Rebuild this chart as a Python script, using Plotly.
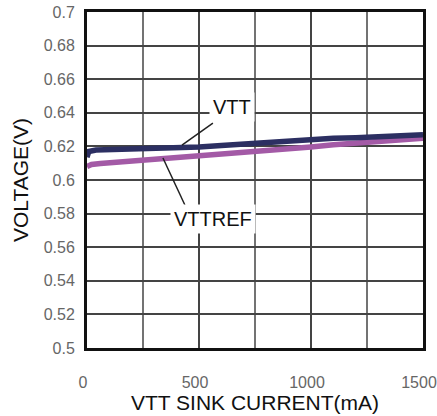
import plotly.graph_objects as go

# Data
vtt_x = [0, 8, 40, 100, 200, 300, 400, 500, 600, 700, 800, 900, 1000, 1100, 1200, 1300, 1400, 1500]
vtt_y = [0.6135, 0.6170, 0.6178, 0.6180, 0.6182, 0.6185, 0.6190, 0.6197, 0.6205, 0.6215,
         0.6225, 0.6230, 0.6245, 0.6248, 0.6252, 0.6260, 0.6262, 0.6270]
vttref_x = [0, 20, 60, 100, 200, 300, 400, 500, 600, 700, 800, 900, 1000, 1100, 1200, 1300, 1400, 1500]
vttref_y = [0.6080, 0.6092, 0.6098, 0.6102, 0.6110, 0.6122, 0.6132, 0.6142, 0.6152, 0.6165,
            0.6175, 0.6185, 0.6197, 0.6210, 0.6220, 0.6230, 0.6238, 0.6248]

x_ticks = [0, 500, 1000, 1500]
x_tick_labels = ["0", "500", "1000", "1500"]
y_ticks = [0.5, 0.52, 0.54, 0.56, 0.58, 0.6, 0.62, 0.64, 0.66, 0.68, 0.7]
y_tick_labels = ["0.5", "0.52", "0.54", "0.56", "0.58", "0.6", "0.62", "0.64", "0.66", "0.68", "0.7"]

fig = go.Figure()
fig.add_trace(go.Scatter(x=vttref_x, y=vttref_y, mode="lines", name="VTTREF",
                         line=dict(color="#a35aa6", width=5.5)))
fig.add_trace(go.Scatter(x=vtt_x, y=vtt_y, mode="lines", name="VTT",
                         line=dict(color="#2c2f62", width=5.5)))

# leader lines
fig.add_shape(type="line", x0=424, y0=0.6208, x1=562, y1=0.6339, xref="x", yref="y",
              line=dict(color="#222", width=1.5), layer="above")
fig.add_shape(type="line", x0=339, y0=0.6131, x1=437, y1=0.5851, xref="x", yref="y",
              line=dict(color="#222", width=1.5), layer="above")

fig.add_annotation(x=647, y=0.6435, text="VTT", showarrow=False, bgcolor="white",
                   font=dict(family="Liberation Sans", size=20, color="#111"), borderpad=3)
fig.add_annotation(x=562, y=0.5768, text="VTTREF", showarrow=False, bgcolor="white",
                   font=dict(family="Liberation Sans", size=20, color="#111"), borderpad=3)

fig.update_layout(
    width=437, height=416,
    margin=dict(l=87, r=14, t=12, b=68, autoexpand=False),
    paper_bgcolor="white", plot_bgcolor="white",
    showlegend=False,
    font=dict(family="Liberation Sans"),
)
fig.update_xaxes(
    range=[0, 1500], tickvals=x_ticks, ticktext=x_tick_labels,
    showgrid=True, gridcolor="#444", gridwidth=1.5,
    showline=True, linecolor="#111", linewidth=3, mirror=True,
    ticks="", ticklabelstandoff=18, ticklabelshift=-4, ticklabeloverflow="allow",
    automargin=False,
    tickfont=dict(family="Liberation Sans", size=16, color="#666"),
    title=dict(text="VTT SINK CURRENT(mA)", standoff=3,
               font=dict(family="Liberation Sans", size=21, color="#111")),
    zeroline=False,
)
fig.update_yaxes(
    range=[0.5, 0.7], tickvals=y_ticks, ticktext=y_tick_labels,
    showgrid=True, gridcolor="#444", gridwidth=1.5,
    showline=True, linecolor="#111", linewidth=3, mirror=True,
    ticks="", ticklabelstandoff=6, ticklabeloverflow="allow",
    automargin=False,
    tickfont=dict(family="Liberation Sans", size=16, color="#666"),
    title=dict(text="VOLTAGE(V)", standoff=10,
               font=dict(family="Liberation Sans", size=21, color="#111")),
    zeroline=False,
)

# vertical grid every 250 (only labeled at 500 steps)
for gx in [250, 750, 1250]:
    fig.add_shape(type="line", x0=gx, x1=gx, y0=0.5, y1=0.7, xref="x", yref="y",
                  line=dict(color="#444", width=1.5), layer="below")

fig.write_html("out.html", config={"displayModeBar": False},
               post_script="document.body.style.margin='0';document.body.style.overflow='hidden';")
